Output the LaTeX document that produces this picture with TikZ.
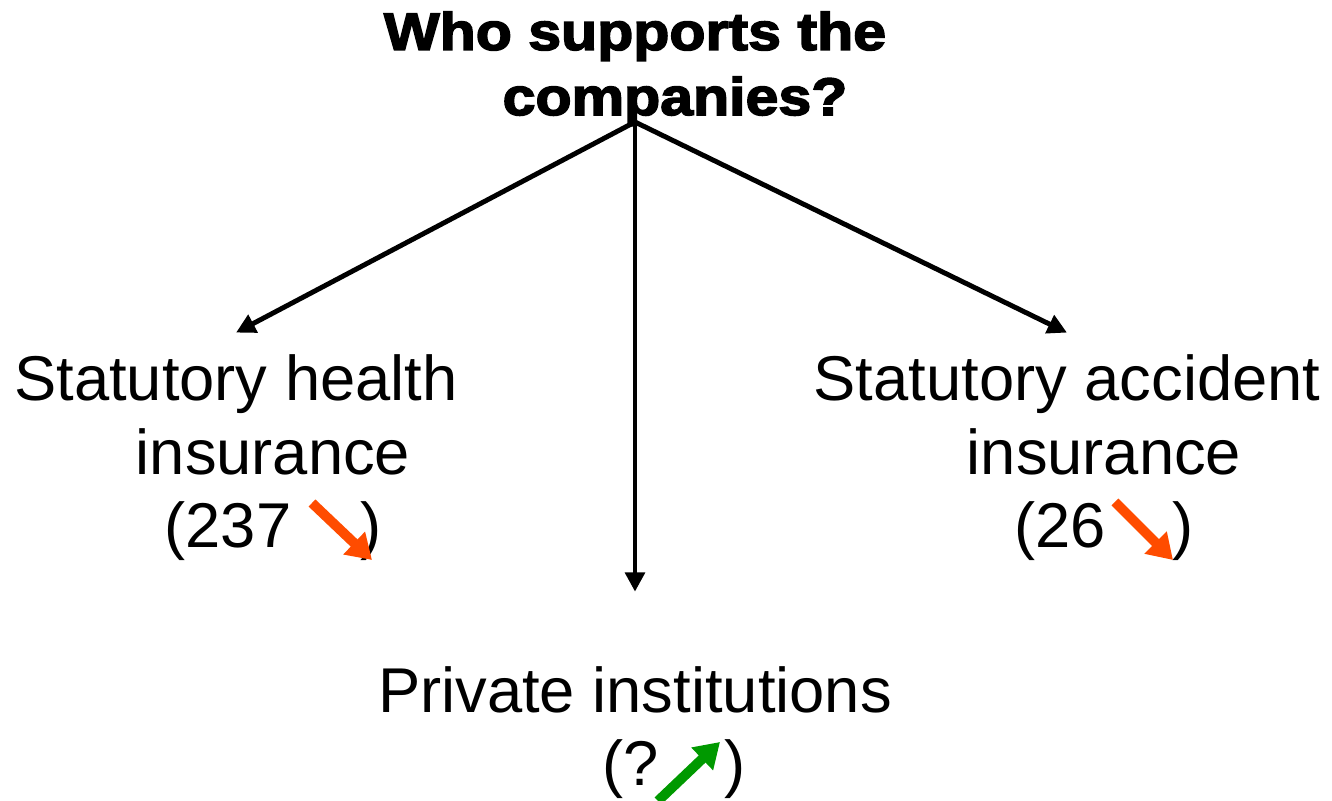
\documentclass[tikz,border=0pt]{standalone}
\usepackage{fontspec}
\setmainfont{Liberation Sans}
\newfontfamily\headfont{Liberation Sans}[BoldFeatures={FakeBold=3,FakeStretch=1.12}]
\usetikzlibrary{arrows.meta}

\definecolor{trenddown}{RGB}{255,76,0}
\definecolor{trendup}{RGB}{0,153,0}

\begin{document}
\begin{tikzpicture}[x=0.01cm,y=-0.01cm,
    insbox/.style={align=center,inner sep=0pt,anchor=base,font=\fontsize{18}{21}\selectfont},
    branch/.style={line width=1.4pt,-{Triangle[length=5.5pt,width=5.5pt]}},
    trend/.style={line width=2.8pt,-{Triangle[length=7pt,width=8.5pt]}}]
    \useasboundingbox (0,0) rectangle (1332,801);
    % question
    \node[align=center,inner sep=0pt,anchor=base,font=\headfont\bfseries\fontsize{15}{18.5}\selectfont] (question) at (635,115) {Who supports the\\\hspace*{0.8cm}companies?};
    \coordinate (fork) at (635,122);
    % the three supporters
    \node[insbox] (health) at (236,548) {Statutory health\\\hspace*{0.74cm}insurance\\\hspace*{0.74cm}(237\hspace{0.69cm})};
    \node[insbox] (accident) at (1067,548) {Statutory accident\\\hspace*{0.74cm}insurance\\\hspace*{0.74cm}(26\hspace{0.66cm})};
    \node[insbox] (private) at (635,786) {Private institutions\\\hspace*{0.78cm}(?\hspace{0.66cm})};
    \draw[branch] (fork) -- ([yshift=6pt]health.north);
    \draw[branch] (fork) -- ([yshift=6pt]accident.north);
    \draw[branch] (fork) -- ([yshift=21pt]private.north);
    % trends
    \draw[trend,trenddown] (312,503) -- (372,560);
    \draw[trend,trenddown] (1115,502) -- (1173,560);
    \draw[trend,trendup] (658,801) -- (720,742);
\end{tikzpicture}
\end{document}
